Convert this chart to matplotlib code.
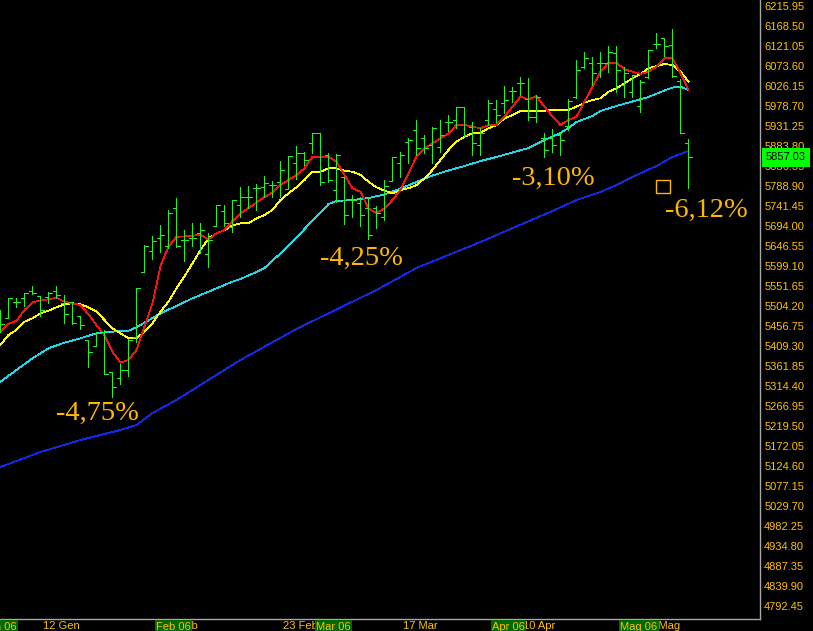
import matplotlib
matplotlib.use('Agg')
import matplotlib.pyplot as plt
import numpy as np
from matplotlib.transforms import blended_transform_factory
from matplotlib.patches import Rectangle

# daily OHLC bars (index 0 = first visible session, early Jan 2006)
opens = [5475.7, 5475.7, 5513.7, 5523.2, 5539.8, 5527.9, 5525.6, 5539.8, 5511.3, 5513.7,
         5480.5, 5423.5, 5409.3, 5442.5, 5347.6, 5333.4, 5352.4, 5430.7, 5584.9, 5634.7,
         5665.5, 5646.6, 5736.7, 5660.8, 5665.5, 5677.4, 5627.6, 5694.0, 5729.6, 5691.6,
         5743.8, 5762.8, 5784.2, 5786.5, 5791.3, 5798.4, 5781.8, 5843.5, 5867.2, 5890.9,
         5914.7, 5862.5, 5779.4, 5810.3, 5755.7, 5748.6, 5736.7, 5736.7, 5715.4, 5800.8,
         5843.5, 5893.3, 5921.8, 5902.8, 5886.2, 5881.4, 5940.8, 5945.5, 5976.3, 5928.9,
         5886.2, 5945.5, 5971.6, 5985.8, 6014.3, 6033.3, 5995.3, 5952.6, 5902.8, 5902.8,
         5909.9, 5931.3, 6000.1, 6071.2, 6080.7, 6080.7, 6080.7, 6104.5, 6028.5, 6011.9,
         5978.7, 6047.5, 6125.8, 6140.0, 6123.4, 6038.0, 5890.9]
highs = [5494.7, 5523.2, 5523.2, 5535.1, 5551.7, 5527.9, 5537.4, 5551.7, 5530.3, 5513.7,
         5480.5, 5423.5, 5442.5, 5447.3, 5347.6, 5366.6, 5425.9, 5546.9, 5648.9, 5670.3,
         5696.4, 5732.0, 5760.4, 5684.5, 5701.1, 5701.1, 5677.4, 5743.8, 5743.8, 5755.7,
         5786.5, 5788.9, 5793.7, 5812.6, 5800.8, 5848.2, 5860.1, 5883.8, 5869.6, 5914.7,
         5914.7, 5867.2, 5864.8, 5810.3, 5767.6, 5762.8, 5762.8, 5741.5, 5803.1, 5857.7,
         5869.6, 5902.8, 5945.5, 5909.9, 5928.9, 5945.5, 5957.4, 5976.3, 5976.3, 5940.8,
         5926.5, 5992.9, 5992.9, 6026.2, 6023.8, 6047.5, 6045.1, 6004.8, 5914.7, 5924.1,
         5917.0, 5995.3, 6087.8, 6106.8, 6095.0, 6106.8, 6121.1, 6121.1, 6071.2, 6052.3,
         6040.4, 6111.6, 6151.9, 6140.0, 6161.4, 6042.8, 5900.4]
lows = [5442.5, 5475.7, 5501.8, 5504.2, 5532.7, 5480.5, 5511.3, 5523.2, 5463.9, 5461.5,
        5449.7, 5359.5, 5409.3, 5342.9, 5288.3, 5319.2, 5338.1, 5418.8, 5584.9, 5615.7,
        5632.3, 5641.8, 5644.2, 5611.0, 5646.6, 5630.0, 5596.7, 5694.0, 5694.0, 5679.8,
        5715.4, 5736.7, 5732.0, 5762.8, 5762.8, 5762.8, 5781.8, 5805.5, 5838.7, 5867.2,
        5791.3, 5798.4, 5751.0, 5698.8, 5715.4, 5694.0, 5663.2, 5689.3, 5708.2, 5800.8,
        5810.3, 5843.5, 5862.5, 5867.2, 5843.5, 5869.6, 5919.4, 5926.5, 5907.5, 5862.5,
        5862.5, 5933.6, 5940.8, 5962.1, 5988.2, 6004.8, 5945.5, 5940.8, 5857.7, 5869.6,
        5862.5, 5921.8, 5997.7, 6068.9, 6028.5, 6047.5, 6059.4, 6011.9, 6000.1, 6000.1,
        5964.5, 6045.1, 6116.3, 6097.3, 6047.5, 5914.7, 5784.2]
closes = [5461.5, 5523.2, 5513.7, 5535.1, 5535.1, 5494.7, 5535.1, 5530.3, 5485.2, 5463.9,
          5459.1, 5395.1, 5440.2, 5342.9, 5312.0, 5352.4, 5423.5, 5546.9, 5646.6, 5658.4,
          5672.7, 5724.9, 5646.6, 5660.8, 5665.5, 5684.5, 5660.8, 5743.8, 5701.1, 5755.7,
          5762.8, 5762.8, 5784.2, 5796.0, 5791.3, 5826.9, 5860.1, 5867.2, 5850.6, 5914.7,
          5798.4, 5803.1, 5862.5, 5720.1, 5755.7, 5720.1, 5672.7, 5724.9, 5788.9, 5857.7,
          5862.5, 5898.0, 5879.1, 5879.1, 5926.5, 5909.9, 5940.8, 5976.3, 5909.9, 5890.9,
          5914.7, 5985.8, 5957.4, 5992.9, 6014.3, 6033.3, 5952.6, 6000.1, 5874.3, 5886.2,
          5898.0, 5990.6, 6064.1, 6092.6, 6057.0, 6080.7, 6106.8, 6064.1, 6057.0, 6052.3,
          6035.7, 6111.6, 6125.8, 6121.1, 6049.9, 5914.7, 5857.03]

# moving averages
red_ma = [5443.2, 5461.5, 5469.3, 5494.7, 5513.0, 5516.8, 5520.1, 5523.9, 5514.4, 5510.6,
          5506.6, 5484.5, 5459.1, 5435.4, 5395.8, 5369.7, 5376.1, 5399.8, 5455.1, 5510.6,
          5599.1, 5645.4, 5668.6, 5669.1, 5671.0, 5672.7, 5662.0, 5676.7, 5684.5, 5705.9,
          5724.1, 5736.7, 5749.8, 5762.8, 5773.5, 5791.3, 5803.1, 5815.0, 5830.9, 5858.4,
          5858.4, 5858.4, 5846.6, 5815.0, 5783.5, 5775.4, 5736.0, 5724.1, 5736.0, 5755.7,
          5779.4, 5819.0, 5858.4, 5878.4, 5890.2, 5902.1, 5913.9, 5933.6, 5933.6, 5929.6,
          5925.8, 5933.6, 5933.6, 5953.3, 5977.1, 6000.8, 5994.6, 6002.4, 5977.1, 5953.3,
          5933.6, 5945.5, 5953.3, 5988.9, 6024.5, 6060.1, 6081.4, 6081.4, 6065.8, 6060.1,
          6054.6, 6060.1, 6072.0, 6091.9, 6091.9, 6056.3, 6016.7]
yellow_ma = [5411.7, 5435.4, 5447.3, 5467.0, 5475.0, 5486.9, 5493.1, 5501.1, 5508.2, 5510.6,
             5508.2, 5501.1, 5490.7, 5471.0, 5451.3, 5439.4, 5427.6, 5427.6, 5443.2, 5463.2,
             5490.7, 5514.4, 5546.2, 5574.7, 5605.5, 5637.1, 5664.8, 5676.7, 5684.5, 5695.2,
             5700.4, 5700.4, 5712.3, 5720.1, 5732.0, 5755.7, 5771.6, 5785.8, 5803.1, 5822.8,
             5822.8, 5830.9, 5830.9, 5825.2, 5822.8, 5815.0, 5799.1, 5785.8, 5777.8, 5771.6,
             5779.4, 5783.5, 5791.3, 5807.2, 5826.9, 5850.6, 5874.3, 5894.0, 5905.9, 5913.9,
             5915.8, 5925.8, 5933.6, 5949.5, 5957.4, 5966.9, 5966.9, 5967.6, 5967.6, 5969.2,
             5969.2, 5969.2, 5977.1, 5986.5, 5992.9, 5997.0, 6012.6, 6020.7, 6032.6, 6044.4,
             6054.6, 6068.2, 6073.6, 6078.4, 6076.0, 6060.1, 6036.4]
cyan_idx = [0, 2, 4, 6, 8, 10, 12, 14, 16, 17, 18, 20, 22, 24, 25, 27, 29, 30, 32, 33,
            35, 37, 39, 40, 41, 42, 44, 46, 48, 50, 52, 54, 56, 58, 60, 62, 64, 66, 68, 70,
            71, 72, 74, 75, 77, 79, 81, 83, 84, 85, 86]
cyan_ma = [5324.6, 5352.4, 5380.1, 5403.9, 5417.1, 5427.6, 5439.4, 5443.2, 5445.6, 5453.7,
           5464.6, 5486.9, 5504.2, 5522.5, 5530.3, 5546.2, 5561.9, 5568.3, 5584.9, 5594.4,
           5629.2, 5667.2, 5706.4, 5726.0, 5746.2, 5753.3, 5755.7, 5760.4, 5768.8, 5783.0,
           5798.4, 5813.8, 5825.7, 5836.4, 5848.2, 5857.7, 5868.4, 5879.1, 5898.0, 5914.7,
           5926.5, 5940.8, 5955.0, 5966.9, 5978.7, 5989.4, 6000.1, 6015.5, 6022.6, 6024.5,
           6016.7]
blue_idx = [0, 5, 10, 15, 17, 19, 22, 25, 30, 37, 47, 52, 60, 69, 72, 75, 77, 79, 82, 84, 86]
blue_ma = [5122.3, 5157.8, 5186.3, 5210.0, 5221.9, 5250.4, 5281.2, 5316.8, 5376.1, 5449.7,
           5542.2, 5594.4, 5656.1, 5729.6, 5755.7, 5774.7, 5791.3, 5810.3, 5836.4, 5857.7,
           5872.0]

yticks = [6215.95, 6168.50, 6121.05, 6073.60, 6026.15, 5978.70, 5931.25, 5883.80, 5836.35,
          5788.90, 5741.45, 5694.00, 5646.55, 5599.10, 5551.65, 5504.20, 5456.75, 5409.30,
          5361.85, 5314.40, 5266.95, 5219.50, 5172.05, 5124.60, 5077.15, 5029.70, 4982.25,
          4934.80, 4887.35, 4839.90, 4792.45]

date_pos = [5, 20, 35, 50, 65, 80]
date_labels = ['12 Gen', '02 Feb', '23 Feb', '17 Mar', '10 Apr', '03 Mag']
month_pos = [-3, 19, 39, 61, 77]
month_labels = ['Gen 06', 'Feb 06', 'Mar 06', 'Apr 06', 'Mag 06']

# drawdown labels
drops = ['-4,75%', '-4,25%', '-3,10%', '-6,12%']
drop_x = [6.9, 40.0, 64.0, 83.1]
drop_y = [5233.8, 5601.5, 5791.3, 5716.1]

GREEN = '#1ef51e'
ORANGE = '#ffc000'
TXT = '#ffb800'
LW = 0.72  # one pixel
MLW = 0.55

fig = plt.figure(figsize=(8.13, 6.31), dpi=100, facecolor='black')
ax = fig.add_axes([0, 12 / 631, 760 / 813, 619 / 631], facecolor='black')

x = np.arange(len(closes))
ax.plot(blue_idx, blue_ma, color='#1428e6', lw=MLW, antialiased=False, zorder=2)
ax.plot(cyan_idx, cyan_ma, color='#22d8e8', lw=MLW, antialiased=False, zorder=2)
ax.plot(x, yellow_ma, color='#ffff00', lw=MLW, antialiased=False, zorder=2)
ax.plot(x, red_ma, color='#ff1010', lw=MLW, antialiased=False, zorder=2)

ax.vlines(x, lows, highs, color=GREEN, lw=LW, antialiased=False, zorder=3)
ax.hlines(opens, x - 0.45, x, color=GREEN, lw=LW, antialiased=False, zorder=3)
ax.hlines(closes, x, x + 0.45, color=GREEN, lw=LW, antialiased=False, zorder=3)

ax.set_xlim(-0.06, 94.94)
ax.set_ylim(4761.6, 6230.2)

for s in ['top', 'left']:
    ax.spines[s].set_visible(False)
for s in ['right', 'bottom']:
    ax.spines[s].set_color('#a8a8a8')
    ax.spines[s].set_linewidth(1)

ax.set_xticks([])
ax.yaxis.tick_right()
ax.set_yticks(yticks)
ax.set_yticklabels(['%.2f' % v for v in yticks], color=ORANGE,
                   fontsize=8, family='Liberation Sans')
ax.tick_params(axis='y', length=0, pad=3)

trans = blended_transform_factory(ax.transData, ax.transAxes)
for p, lab in zip(date_pos, date_labels):
    ax.text(p + 0.35, -0.0115, lab, transform=trans, color=ORANGE, fontsize=8,
            family='Liberation Sans', ha='left', va='center', clip_on=False)
for p, lab in zip(month_pos, month_labels):
    ax.text(p + 0.45, -0.0125, lab, transform=trans, color=ORANGE, fontsize=8,
            family='Liberation Sans', ha='left', va='center', clip_on=False,
            bbox=dict(boxstyle='square,pad=0.12', facecolor='#006a00', edgecolor='none'))

for lab, dx, dy in zip(drops, drop_x, drop_y):
    ax.text(dx, dy, lab, color=TXT, fontsize=20.5, family='Liberation Serif',
            ha='left', va='baseline')

ax.add_patch(Rectangle((81.9, 5772.3), 1.75, 30.8, facecolor='none',
                       edgecolor=TXT, lw=1, zorder=4))

# last price tag
ptrans = blended_transform_factory(ax.transAxes, ax.transData)
ax.text(1.0 + 6 / 760, closes[-1], '%.2f' % closes[-1], transform=ptrans, color='black',
        fontsize=8, family='Liberation Sans', ha='left', va='center', clip_on=False,
        zorder=10, bbox=dict(boxstyle='square,pad=0.4', facecolor='#00ff00', edgecolor='none'))

fig.savefig('out.png', dpi=100, facecolor='black')
